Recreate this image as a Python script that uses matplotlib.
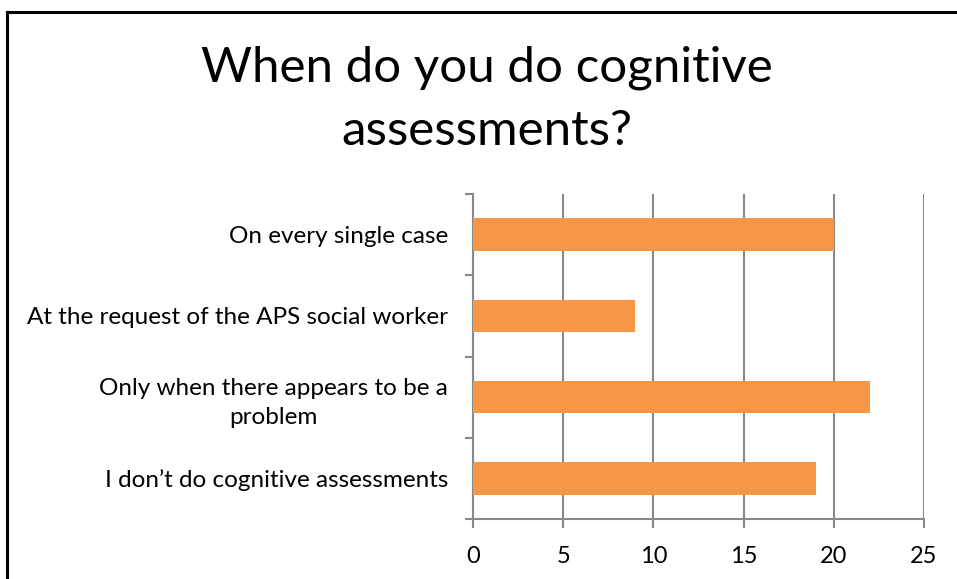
import matplotlib
matplotlib.use("Agg")
import matplotlib.pyplot as plt
from matplotlib.lines import Line2D

categories = ["On every single case",
              "At the request of the APS social worker",
              "Only when there appears to be a\nproblem",
              "I don\u2019t do cognitive assessments"]
values = [20, 9, 22, 19]
xticks = [0, 5, 10, 15, 20, 25]
title = "When do you do cognitive\nassessments?"

plt.rcParams['font.family'] = ['Lato', 'DejaVu Sans']

W, H = 957, 579
fig = plt.figure(figsize=(W/100, H/100), dpi=100)
ax = fig.add_axes([473/W, 1-519/H, (924-473)/W, (519-194)/H])

ypos = list(range(len(categories)))[::-1]
ax.barh(ypos, values, height=0.4, color="#F79646", zorder=3)
ax.set_xlim(0, 25)
ax.set_ylim(-0.5, len(categories)-0.5)
ax.set_xticks(xticks)
ax.set_xticklabels([str(t) for t in xticks], fontsize=17)
ax.set_yticks(ypos)
ax.set_yticklabels(categories, fontsize=17.5, multialignment='center',
                   linespacing=1.45)
ax.tick_params(axis='y', length=0, pad=18)
# category boundary ticks
ax.set_yticks([i - 0.5 for i in range(len(categories)+1)], minor=True)
ax.tick_params(axis='y', which='minor', length=6, width=1.5, color='#888888')
ax.tick_params(axis='x', length=6.5, width=1.5, color='#888888', pad=13)
ax.grid(axis='x', color='#888888', linewidth=1.5, zorder=0)
for s in ['top', 'right']:
    ax.spines[s].set_visible(False)
for s in ['left', 'bottom']:
    ax.spines[s].set_color('#888888')
    ax.spines[s].set_linewidth(1.5)

fig.text(487/W, 1-99/H, title, fontsize=35.5, ha='center', va='center',
         linespacing=1.52)

# outer frame (left and top visible)
fig.add_artist(Line2D([7/W, 7/W], [0, 1-12/H], color='black', lw=2.2, transform=fig.transFigure))
fig.add_artist(Line2D([7/W, 1], [1-12/H, 1-12/H], color='black', lw=2.2, transform=fig.transFigure))

fig.savefig("out.png", dpi=100)
